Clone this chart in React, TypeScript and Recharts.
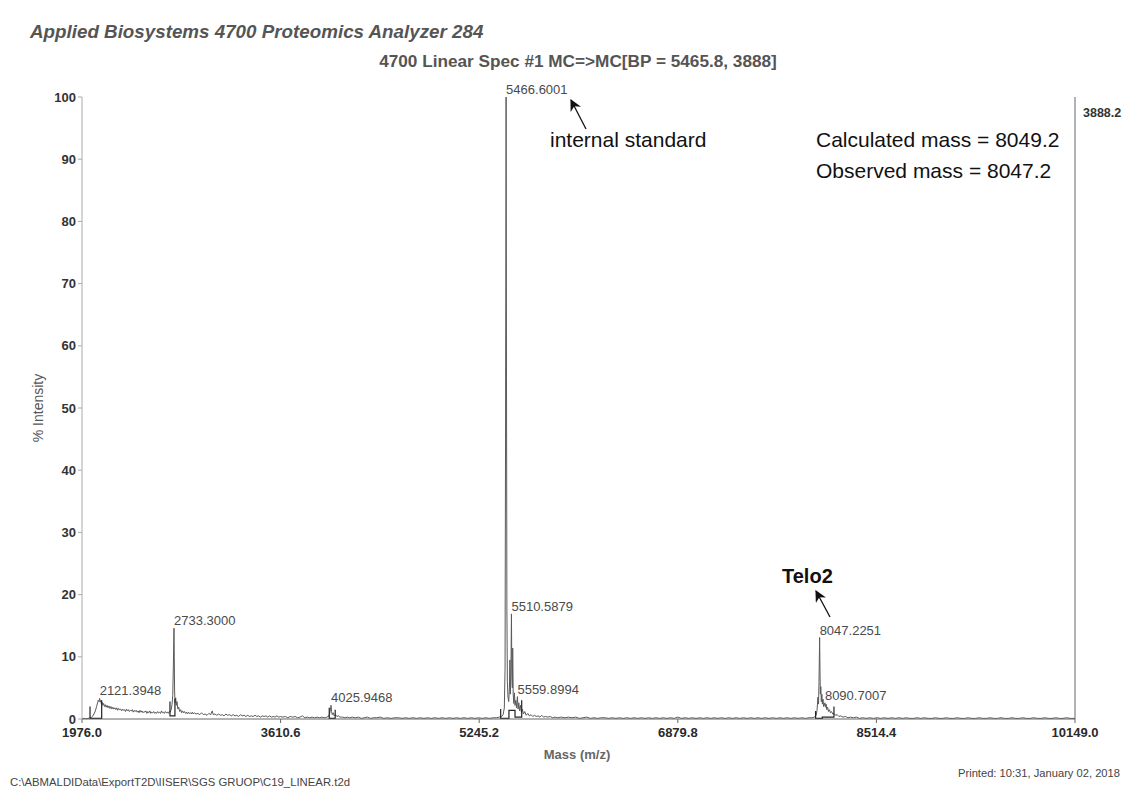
import * as React from 'react';
import {
  ComposedChart,
  Line,
  Scatter,
  XAxis,
  YAxis,
  ReferenceLine,
} from 'recharts';

// spectrum as [mass, % intensity] pairs
const lowMassSpectrum: [number, number][] = [
  [1976, 0.05], [1995, 0.1], [2015, 0.05], [2035, 0.15], [2050, 0.2], [2062, 0.4], [2074, 0.8],
  [2086, 1.3], [2096, 2.0], [2104, 2.6], [2110, 3.0], [2116, 2.8], [2121.4, 3.3], [2126, 2.7],
  [2131, 3.0], [2136, 2.4], [2142, 2.7], [2148, 2.2], [2154, 2.5], [2161, 2.0], [2168, 2.3],
  [2175, 1.9], [2182, 2.2], [2190, 1.8], [2198, 2.1], [2206, 1.7], [2214, 2.0], [2222, 1.6],
  [2230, 1.9], [2238, 1.6], [2246, 1.8], [2254, 1.5], [2262, 1.8], [2270, 1.4], [2278, 1.7],
  [2286, 1.5], [2294, 1.6], [2302, 1.3], [2310, 1.6], [2318, 1.4], [2326, 1.5], [2334, 1.2],
  [2342, 1.6], [2350, 1.3], [2358, 1.5], [2366, 1.2], [2374, 1.4], [2382, 1.3], [2390, 1.5],
  [2398, 1.1], [2406, 1.4], [2414, 1.2], [2422, 1.4], [2430, 1.1], [2438, 1.3], [2446, 1.0],
  [2454, 1.4], [2462, 1.1], [2470, 1.3], [2478, 1.0], [2486, 1.2], [2494, 1.1], [2502, 1.3],
  [2510, 0.9], [2518, 1.2], [2526, 1.0], [2534, 1.3], [2542, 0.9], [2550, 1.1], [2558, 1.0],
  [2566, 1.2], [2574, 0.9], [2582, 1.1], [2590, 0.9], [2598, 1.2], [2606, 1.0], [2614, 1.1],
  [2622, 0.9], [2630, 1.3], [2638, 1.0], [2646, 1.1], [2654, 0.9], [2662, 1.2], [2670, 1.0],
  [2678, 1.1], [2686, 0.9], [2694, 1.2], [2702, 1.1], [2710, 1.5], [2717, 2.3], [2723, 3.8],
  [2728, 8.5], [2731, 12.5], [2733.3, 14.6], [2735.5, 10], [2738, 4.5], [2742, 2.6], [2747, 3.4],
  [2752, 2.2], [2758, 2.8], [2765, 1.6], [2772, 1.9], [2780, 1.2], [2788, 1.5], [2796, 1.0],
  [2804, 1.3], [2812, 1.0], [2820, 1.2], [2828, 0.9], [2836, 1.1], [2844, 0.8], [2852, 1.1],
  [2860, 0.9], [2868, 1.0], [2876, 0.8], [2884, 1.1], [2892, 0.8], [2900, 1.0],
];

const midMassSpectrum: [number, number][] = [
  [2915, 0.8], [2930, 0.9], [2945, 0.7], [2960, 1.0], [2975, 0.7], [2990, 0.8], [3005, 0.6],
  [3020, 0.9], [3035, 0.7], [3048, 1.3], [3056, 0.7], [3070, 0.8], [3085, 0.6], [3100, 0.8],
  [3115, 0.6], [3130, 0.7], [3145, 0.5], [3160, 0.8], [3175, 0.6], [3190, 0.7], [3205, 0.5],
  [3220, 0.7], [3235, 0.5], [3250, 0.6], [3265, 0.4], [3280, 0.7], [3295, 0.5], [3310, 0.6],
  [3325, 0.4], [3340, 0.6], [3355, 0.4], [3370, 0.5], [3385, 0.4], [3400, 0.6], [3415, 0.4],
  [3430, 0.5], [3445, 0.3], [3460, 0.5], [3475, 0.4], [3490, 0.5], [3505, 0.3], [3520, 0.5],
  [3535, 0.3], [3550, 0.4], [3565, 0.3], [3580, 0.5], [3595, 0.3], [3610, 0.4], [3630, 0.3],
  [3650, 0.4], [3670, 0.2], [3690, 0.4], [3710, 0.3], [3730, 0.4], [3750, 0.2], [3770, 0.3],
  [3790, 0.5], [3810, 0.2], [3830, 0.3], [3850, 0.2], [3870, 0.3], [3890, 0.2], [3910, 0.3],
  [3930, 0.2], [3950, 0.3], [3970, 0.2], [3990, 0.3], [4005, 0.4], [4015, 0.9], [4021, 1.6],
  [4025.9, 2.2], [4030, 1.2], [4036, 0.7], [4044, 1.0], [4052, 0.5], [4062, 0.7], [4074, 0.4],
  [4086, 0.5], [4100, 0.3], [4120, 0.3], [4140, 0.2], [4160, 0.3], [4180, 0.2], [4200, 0.3],
  [4225, 0.2], [4250, 0.3], [4275, 0.1], [4300, 0.2], [4325, 0.3], [4350, 0.1], [4375, 0.2],
  [4400, 0.2], [4430, 0.3], [4460, 0.1], [4490, 0.2], [4520, 0.1], [4550, 0.2], [4580, 0.2],
  [4610, 0.1], [4640, 0.2], [4670, 0.1], [4700, 0.2], [4730, 0.1], [4760, 0.2], [4790, 0.1],
  [4820, 0.2], [4850, 0.1], [4880, 0.2], [4910, 0.1], [4940, 0.2], [4970, 0.1], [5000, 0.2],
  [5030, 0.1], [5060, 0.2], [5090, 0.1], [5120, 0.2], [5150, 0.1], [5180, 0.2], [5210, 0.1],
  [5240, 0.2], [5270, 0.1], [5300, 0.2], [5330, 0.1], [5360, 0.2], [5390, 0.2], [5410, 0.3],
];

const standardSpectrum: [number, number][] = [
  [5430, 0.4], [5442, 0.7], [5452, 1.8], [5458, 8], [5462, 45], [5466.6, 100], [5470, 55],
  [5473, 18], [5477, 6], [5482, 3.5], [5488, 2.8], [5494, 5], [5498, 9.5], [5502, 4], [5507, 9],
  [5510.6, 16.9], [5514, 7], [5518, 5], [5521, 11.4], [5525, 4], [5530, 2.5], [5535, 4.2],
  [5540, 2.2], [5546, 3.0], [5552, 1.8], [5559.9, 3.6], [5565, 1.6], [5571, 2.6], [5578, 1.3],
  [5585, 2.2], [5592, 1.1], [5600, 1.6], [5610, 0.8], [5620, 1.2], [5632, 0.6], [5645, 0.9],
  [5658, 0.5], [5672, 0.7], [5686, 0.4], [5700, 0.6], [5715, 0.4], [5730, 0.5], [5745, 0.3],
  [5760, 0.6], [5775, 0.3], [5790, 0.4], [5810, 0.3], [5830, 0.4], [5850, 0.2], [5870, 0.3],
  [5890, 0.2],
];

const highMassSpectrum: [number, number][] = [
  [5920, 0.3], [5950, 0.2], [5980, 0.3], [6010, 0.2], [6040, 0.3], [6070, 0.1], [6100, 0.2],
  [6130, 0.3], [6160, 0.1], [6190, 0.2], [6220, 0.1], [6250, 0.2], [6280, 0.2], [6310, 0.1],
  [6340, 0.2], [6370, 0.1], [6400, 0.2], [6430, 0.1], [6460, 0.2], [6490, 0.1], [6520, 0.2],
  [6550, 0.1], [6580, 0.2], [6610, 0.1], [6640, 0.2], [6670, 0.1], [6700, 0.2], [6730, 0.1],
  [6760, 0.2], [6790, 0.1], [6820, 0.2], [6850, 0.1], [6880, 0.3], [6910, 0.1], [6940, 0.2],
  [6970, 0.1], [7000, 0.2], [7030, 0.1], [7060, 0.2], [7090, 0.1], [7120, 0.2], [7150, 0.1],
  [7180, 0.2], [7210, 0.1], [7240, 0.2], [7270, 0.1], [7300, 0.2], [7330, 0.1], [7360, 0.2],
  [7390, 0.1], [7420, 0.2], [7450, 0.1], [7480, 0.2], [7510, 0.1], [7540, 0.2], [7570, 0.1],
  [7600, 0.2], [7630, 0.1], [7660, 0.2], [7690, 0.1], [7720, 0.2], [7750, 0.1], [7780, 0.2],
  [7810, 0.1], [7840, 0.2], [7870, 0.1], [7900, 0.2], [7930, 0.1], [7960, 0.2], [7985, 0.2],
];

const teloSpectrum: [number, number][] = [
  [8005, 0.3], [8018, 0.6], [8026, 1.4], [8033, 3.5], [8038, 2.4], [8042, 6], [8047.2, 13.1],
  [8050, 8], [8053, 4], [8057, 5.2], [8061, 2.8], [8065, 4.0], [8070, 2.4], [8075, 3.2],
  [8080, 2.0], [8085, 2.2], [8090.7, 2.6], [8095, 1.9], [8100, 2.4], [8106, 1.5], [8113, 1.9],
  [8120, 1.2], [8128, 1.5], [8136, 1.0], [8145, 1.2], [8155, 0.8], [8165, 0.9], [8178, 0.6],
  [8192, 0.7], [8206, 0.4], [8220, 0.5], [8240, 0.3], [8260, 0.4], [8280, 0.2], [8300, 0.3],
  [8325, 0.2], [8350, 0.3], [8375, 0.1], [8400, 0.2], [8430, 0.1], [8460, 0.2], [8490, 0.1],
  [8520, 0.2], [8550, 0.1], [8580, 0.2], [8610, 0.1], [8640, 0.2], [8670, 0.1], [8700, 0.2],
  [8730, 0.1], [8760, 0.2], [8790, 0.1], [8820, 0.1], [8850, 0.2], [8880, 0.1], [8910, 0.2],
  [8940, 0.1], [8970, 0.1], [9000, 0.2], [9030, 0.1], [9060, 0.1], [9090, 0.2], [9120, 0.1],
  [9150, 0.1], [9180, 0.2], [9210, 0.1], [9240, 0.1], [9270, 0.2], [9300, 0.1], [9330, 0.1],
  [9360, 0.2], [9390, 0.1], [9420, 0.1], [9450, 0.2], [9480, 0.1], [9510, 0.1], [9540, 0.2],
  [9570, 0.1], [9600, 0.1], [9630, 0.2], [9660, 0.1], [9690, 0.1], [9720, 0.2], [9750, 0.1],
  [9780, 0.1], [9810, 0.2], [9840, 0.1], [9870, 0.1], [9900, 0.2], [9930, 0.1], [9960, 0.1],
  [9990, 0.2], [10020, 0.1], [10050, 0.1], [10080, 0.2], [10110, 0.1], [10149, 0.1],
];

// integration brackets drawn by the instrument under the picked peaks
const peakBrackets: [number, number][][] = [
  [[2042, 2.0], [2042, 0.1], [2138, 0.1], [2138, 3.0]],
  [[2700, 2.8], [2700, 0.5], [2741, 0.5], [2741, 3.3]],
  [[4011, 1.8], [4011, 0.1], [4060, 0.1], [4060, 1.5]],
  [[5422, 1.6], [5422, 0.1], [5490, 0.1], [5490, 1.4], [5540, 1.4], [5540, 0.3], [5595, 0.3], [5595, 3.0]],
  [[8014, 1.3], [8014, 0.1], [8069, 0.1], [8069, 0.3], [8165, 0.3], [8165, 2.0]],
];

const peakMasses = [2121.4, 2733.3, 4025.9, 5466.6, 5510.6, 5559.9, 8047.2, 8090.7];
const peakHeights = [3.3, 14.6, 2.2, 100, 16.9, 3.6, 13.1, 2.6];
const peakNames = [
  '2121.3948', '2733.3000', '4025.9468', '5466.6001',
  '5510.5879', '5559.8994', '8047.2251', '8090.7007',
];

const xTicks = [1976.0, 3610.6, 5245.2, 6879.8, 8514.4, 10149.0];
const yTicks = [0, 10, 20, 30, 40, 50, 60, 70, 80, 90, 100];

const FONT = '"Liberation Sans", Arial, sans-serif';
const WIDTH = 1132;
const HEIGHT = 793;

const toRows = (pairs: [number, number][]) => pairs.map(([mass, value]) => ({ mass, value }));

const spectrum = toRows([
  ...lowMassSpectrum,
  ...midMassSpectrum,
  ...standardSpectrum,
  ...highMassSpectrum,
  ...teloSpectrum,
]);

const peakLabels = peakMasses.map((mass, i) => ({ mass, value: peakHeights[i], name: peakNames[i] }));

const PeakLabel = (props: any) => {
  const { cx, cy, payload } = props;
  if (cx == null || cy == null) return null;
  return (
    <text x={cx} y={cy - 3} fontSize={13} fontFamily={FONT} fill="#4a4a4a">
      {payload.name}
    </text>
  );
};

export default function App() {
  return (
    <div style={{ position: 'absolute', left: 0, top: 0, width: WIDTH, height: HEIGHT, background: '#fff' }}>
      <ComposedChart
        width={WIDTH}
        height={HEIGHT}
        margin={{ top: 97, right: 57, bottom: 44, left: 22 }}
      >
        <XAxis
          dataKey="mass"
          type="number"
          domain={[1976, 10149]}
          ticks={xTicks}
          tickFormatter={(v: number) => v.toFixed(1)}
          tick={{ fontSize: 13, fontWeight: 700, fill: '#2a2a2a', fontFamily: FONT }}
          tickSize={4}
          tickMargin={5}
          stroke="#666"
          height={30}
        />
        <YAxis
          type="number"
          domain={[0, 100]}
          ticks={yTicks}
          tick={{ fontSize: 13, fontWeight: 700, fill: '#333', fontFamily: FONT }}
          tickSize={4}
          stroke="#aaa"
          width={60}
        />
        <ReferenceLine
          x={10149}
          stroke="#666"
          label={(p: any) => (
            <text
              x={p.viewBox.x + 8}
              y={p.viewBox.y + 20}
              fontSize={12.5}
              fontWeight={700}
              fontFamily={FONT}
              fill="#333"
            >
              3888.2
            </text>
          )}
        />
        <Line
          data={spectrum}
          dataKey="value"
          type="linear"
          dot={false}
          stroke="#5a5a5a"
          strokeWidth={1}
          isAnimationActive={false}
        />
        {peakBrackets.map((bracket, i) => (
          <Line
            key={`bracket-${i}`}
            data={toRows(bracket)}
            dataKey="value"
            type="linear"
            dot={false}
            stroke="#222"
            strokeWidth={1.2}
            isAnimationActive={false}
          />
        ))}
        <Scatter data={peakLabels} dataKey="value" shape={PeakLabel} isAnimationActive={false} />
      </ComposedChart>

      <svg
        width={WIDTH}
        height={HEIGHT}
        style={{ position: 'absolute', left: 0, top: 0, pointerEvents: 'none' }}
        fontFamily={FONT}
      >
        <defs>
          <marker id="arrowHead" viewBox="0 0 10 10" refX="9" refY="5" markerWidth="9" markerHeight="9" orient="auto">
            <path d="M0,0 L10,5 L0,10 L3,5 z" fill="#111" />
          </marker>
        </defs>
        <text x={30} y={31} dominantBaseline="central" fontSize={18.8} fontWeight={700} fontStyle="italic" fill="#555">
          Applied Biosystems 4700 Proteomics Analyzer 284
        </text>
        <text x={578} y={61} dominantBaseline="central" textAnchor="middle" fontSize={17.2} fontWeight={700} fill="#555">
          4700 Linear Spec #1 MC=&gt;MC[BP = 5465.8, 3888]
        </text>

        <text x={550} y={139} dominantBaseline="central" fontSize={21} fill="#111">internal standard</text>
        <line x1={586} y1={129} x2={571} y2={100} stroke="#111" strokeWidth={1.3} markerEnd="url(#arrowHead)" />

        <text x={816} y={139} dominantBaseline="central" fontSize={21} fill="#111">Calculated mass = 8049.2</text>
        <text x={816} y={170} dominantBaseline="central" fontSize={21} fill="#111">Observed mass = 8047.2</text>

        <text x={782} y={576} dominantBaseline="central" fontSize={20} fontWeight={700} fill="#111">Telo2</text>
        <line x1={830} y1={617} x2={816} y2={591} stroke="#111" strokeWidth={1.3} markerEnd="url(#arrowHead)" />

        <text x={38} y={408} transform="rotate(-90 38 408)" textAnchor="middle" dominantBaseline="central" fontSize={14} fill="#555">
          % Intensity
        </text>
        <text x={577} y={754} textAnchor="middle" dominantBaseline="central" fontSize={13} fontWeight={700} fill="#666">
          Mass (m/z)
        </text>

        <text x={10} y={782} dominantBaseline="central" fontSize={11} fill="#444" textLength={340} lengthAdjust="spacingAndGlyphs">
          C:\ABMALDIData\ExportT2D\IISER\SGS GRUOP\C19_LINEAR.t2d
        </text>
        <text x={958} y={773} dominantBaseline="central" fontSize={11} fill="#444" textLength={162} lengthAdjust="spacingAndGlyphs">
          Printed: 10:31, January 02, 2018
        </text>
      </svg>
    </div>
  );
}
